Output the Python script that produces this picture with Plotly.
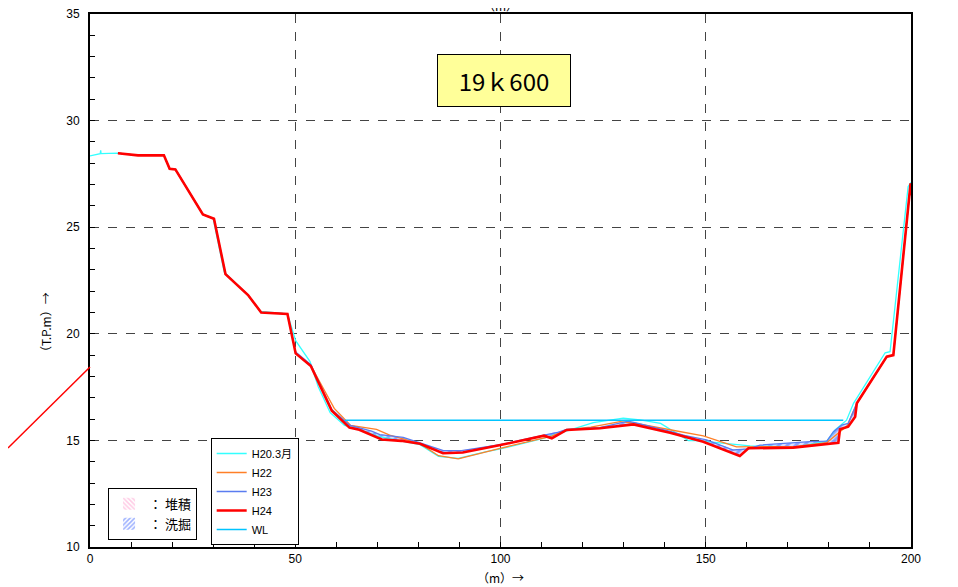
import numpy as np
import plotly.graph_objects as go

# ---------------- data ----------------
h24_x = [6.8, 11.7, 18.0, 19.4, 20.8, 27.5, 30.2, 33.0, 38.5, 41.7, 48.1, 50.1, 53.8, 58.9, 63.2, 65.6,
         71.1, 75.8, 80.4, 86.0, 90.8, 100.0, 110.6, 112.5, 116.1, 124.2, 132.4, 141.3, 149.4, 158.3,
         160.4, 171.3, 182.3, 182.7, 184.7, 186.4, 186.8, 194.1, 195.7, 199.9, 200.0]
h24_y = [28.47, 28.37, 28.37, 27.74, 27.71, 25.6, 25.4, 22.8, 21.82, 21.0, 20.93, 19.08, 18.49, 16.39, 15.6, 15.5,
         15.04, 14.98, 14.84, 14.4, 14.43, 14.78, 15.22, 15.1, 15.49, 15.57, 15.75, 15.36, 14.94, 14.27,
         14.63, 14.66, 14.89, 15.52, 15.64, 16.11, 16.74, 18.93, 19.0, 27.06, 26.5]

h23_x = [6.8, 11.7, 18.0, 19.4, 20.8, 27.5, 30.2, 33.0, 38.5, 41.7, 48.1, 50.1, 53.8, 58.9, 63.2, 68.6,
         70.6, 76.3, 80.4, 86.1, 90.5, 100.0, 110.6, 114.0, 116.1, 124.2, 131.1, 133.5, 141.3, 145.0, 150.2,
         156.7, 160.4, 163.2, 175.4, 179.5, 181.1, 183.1, 184.7, 186.8, 194.1, 195.7, 199.9, 200.0]
h23_y = [28.47, 28.37, 28.37, 27.74, 27.71, 25.6, 25.4, 22.8, 21.82, 21.0, 20.93, 19.15, 18.55, 16.45, 15.72, 15.43,
         15.27, 15.14, 14.88, 14.52, 14.52, 14.8, 15.25, 15.38, 15.52, 15.6, 15.9, 15.8, 15.42, 15.22, 15.02,
         14.55, 14.6, 14.78, 14.94, 14.97, 15.41, 15.72, 15.8, 16.74, 18.93, 19.0, 27.06, 26.5]

h22_x = [6.8, 11.7, 18.0, 19.4, 20.8, 27.5, 30.2, 33.0, 38.5, 41.7, 48.1, 50.1, 53.8, 59.5, 63.5, 69.8,
         73.0, 80.4, 84.9, 89.7, 99.9, 110.4, 112.5, 116.0, 122.0, 129.1, 133.0, 141.3, 149.4, 157.5,
         165.0, 172.0, 179.5, 182.0, 184.5, 186.8, 194.1, 195.7, 199.9, 200.0]
h22_y = [28.47, 28.37, 28.37, 27.74, 27.71, 25.6, 25.4, 22.8, 21.82, 21.0, 20.93, 19.1, 18.5, 16.5, 15.7, 15.52,
         15.25, 14.85, 14.28, 14.13, 14.63, 15.1, 15.2, 15.5, 15.62, 15.88, 15.8, 15.5, 15.21, 14.7,
         14.7, 14.72, 14.9, 15.3, 15.7, 16.74, 18.93, 19.0, 27.06, 26.5]

h20_x = [0.0, 2.5, 2.6, 2.7, 6.8, 11.7, 18.0, 19.4, 20.8, 27.5, 30.0, 32.7, 38.3, 41.5, 48.1, 49.5, 50.1,
         53.6, 55.6, 58.5, 62.0, 65.0, 70.0, 75.0, 80.4, 84.9, 89.7, 96.6, 100.0, 110.4, 116.0, 122.6,
         129.9, 134.0, 139.0, 145.8, 147.8, 160.8, 172.0, 179.5, 181.5, 184.3, 186.0, 193.7, 194.9, 199.3, 200.0]
h20_y = [28.34, 28.45, 28.6, 28.45, 28.47, 28.37, 28.37, 27.74, 27.71, 25.6, 25.4, 22.9, 21.85, 21.05, 20.93, 20.0, 19.68,
         18.7, 17.52, 16.3, 15.7, 15.55, 15.2, 15.0, 14.8, 14.25, 14.16, 14.47, 14.6, 15.1, 15.45, 15.83,
         16.04, 15.96, 15.8, 14.99, 14.99, 14.74, 14.7, 14.97, 15.49, 15.95, 16.74, 19.11, 19.16, 26.9, 27.1]

wl_x = [62.1, 183.5]
wl_y = [15.95, 15.95]

section_label = "19ｋ600"
x_ticks = [0, 50, 100, 150, 200]
y_ticks = [10, 15, 20, 25, 30, 35]

# ---------------- figure ----------------
fig = go.Figure()

# hatch areas between H23 and H24
grid = np.union1d(np.union1d(h23_x, h24_x), np.arange(6.8, 200.0, 0.1))
a = np.interp(grid, h23_x, h23_y)
b = np.interp(grid, h24_x, h24_y)
scour_top, scour_bot = a, np.minimum(a, b)
dep_top, dep_bot = np.maximum(a, b), a

fig.add_trace(go.Scatter(
    x=np.concatenate([grid, grid[::-1]]), y=np.concatenate([dep_top, dep_bot[::-1]]),
    fill="toself", mode="lines", line=dict(width=0), showlegend=False, hoverinfo="skip",
    fillpattern=dict(shape="\\", fgcolor="#ff88cc", bgcolor="rgba(255,255,255,0)", size=6, solidity=0.45)))
fig.add_trace(go.Scatter(
    x=np.concatenate([grid, grid[::-1]]), y=np.concatenate([scour_top, scour_bot[::-1]]),
    fill="toself", mode="lines", line=dict(width=0), showlegend=False, hoverinfo="skip",
    fillpattern=dict(shape="/", fgcolor="#3a62ff", bgcolor="rgba(215,222,255,0.9)", size=6, solidity=0.5)))

fig.add_trace(go.Scatter(x=h20_x, y=h20_y, mode="lines", name="H20.3月",
                         line=dict(color="#33ffff", width=1.3), legendrank=1))
fig.add_trace(go.Scatter(x=h22_x, y=h22_y, mode="lines", name="H22",
                         line=dict(color="#ff7f27", width=1.3), legendrank=2))
fig.add_trace(go.Scatter(x=h23_x, y=h23_y, mode="lines", name="H23",
                         line=dict(color="#5a7cf0", width=1.3), legendrank=3))
fig.add_trace(go.Scatter(x=wl_x, y=wl_y, mode="lines", name="WL",
                         line=dict(color="#00c4ff", width=1.5), legendrank=5))
fig.add_trace(go.Scatter(x=h24_x, y=h24_y, mode="lines", name="H24",
                         line=dict(color="#ff0000", width=2.6), legendrank=4))

# hatch legend (second legend)
fig.add_trace(go.Bar(x=[None], y=[None], name="： 堆積", legend="legend2",
                     marker=dict(color="white", line=dict(width=0),
                                 pattern=dict(shape="\\", fgcolor="#ff99cc", bgcolor="white", size=4, solidity=0.5))))
fig.add_trace(go.Bar(x=[None], y=[None], name="： 洗掘", legend="legend2",
                     marker=dict(color="white", line=dict(width=0),
                                 pattern=dict(shape="/", fgcolor="#3a62ff", bgcolor="white", size=4, solidity=0.5))))

# section label
fig.add_annotation(x=100.8, y=31.86, xref="x", yref="y", text=section_label, showarrow=False,
                   font=dict(family="Noto Sans CJK JP, Liberation Sans", size=24, color="black"),
                   bgcolor="#ffff99", bordercolor="black", borderwidth=1, width=130, height=49)

# axis titles as annotations
jp = "Noto Sans CJK JP"
fig.add_annotation(x=0.5, y=1, xref="paper", yref="paper", xanchor="center", yanchor="bottom", yshift=-2,
                   text="（m）", showarrow=False, font=dict(family=jp, size=12, color="black"))
fig.add_annotation(x=0.5, y=-0.058, xref="paper", yref="paper", xanchor="center", yanchor="middle",
                   text="（m）→", showarrow=False, font=dict(family=jp, size=12, color="black"))
fig.add_annotation(x=-0.0548, y=0.4165, xref="paper", yref="paper", xanchor="center", yanchor="middle",
                   textangle=-90, text="（T.P.m）→", showarrow=False, font=dict(family=jp, size=12, color="black"))

# stray line at the left edge
fig.add_shape(type="line", xref="paper", yref="paper", x0=-0.0999, y0=0.1857, x1=0.0, y1=0.3377,
              line=dict(color="#ff0000", width=1.5))

axis_font = dict(family="Liberation Sans, Arial", size=12, color="black")
fig.update_xaxes(range=[0, 200], tickvals=x_ticks, ticks="inside", ticklen=5, tickcolor="black",
                 showline=True, linecolor="black", linewidth=2, mirror=True, automargin=False,
                 showgrid=True, gridcolor="#444444", griddash="dash", gridwidth=1,
                 minor=dict(dtick=10, ticks="inside", ticklen=5, tickcolor="black", showgrid=False),
                 tickfont=axis_font, zeroline=False, ticklabeloverflow="allow")
fig.update_yaxes(range=[10, 35], tickvals=y_ticks, ticks="inside", ticklen=5, tickcolor="black",
                 showline=True, linecolor="black", linewidth=2, mirror=True, automargin=False,
                 showgrid=True, gridcolor="#444444", griddash="dash", gridwidth=1,
                 minor=dict(dtick=1, ticks="inside", ticklen=5, tickcolor="black", showgrid=False),
                 tickfont=axis_font, zeroline=False, ticklabelstandoff=6, ticklabeloverflow="allow")

# page body has an 8px margin, so the figure is 8px smaller and margins shifted accordingly
fig.update_layout(
    width=950, height=579, margin=dict(l=82, r=47, t=6, b=40, autoexpand=False),
    plot_bgcolor="white", paper_bgcolor="white", barmode="overlay",
    legend=dict(x=0.147, y=0.2045, xanchor="left", yanchor="top",
                bordercolor="black", borderwidth=1, bgcolor="white", itemwidth=30,
                tracegroupgap=0, font=dict(family="Liberation Sans, Noto Sans CJK JP", size=11, color="black")),
    legend2=dict(x=0.022, y=0.111, xanchor="left", yanchor="top",
                 bordercolor="black", borderwidth=1, bgcolor="white", itemwidth=30,
                 font=dict(family=jp, size=13, color="black")),
    showlegend=True,
)

fig.write_html("out.html")
